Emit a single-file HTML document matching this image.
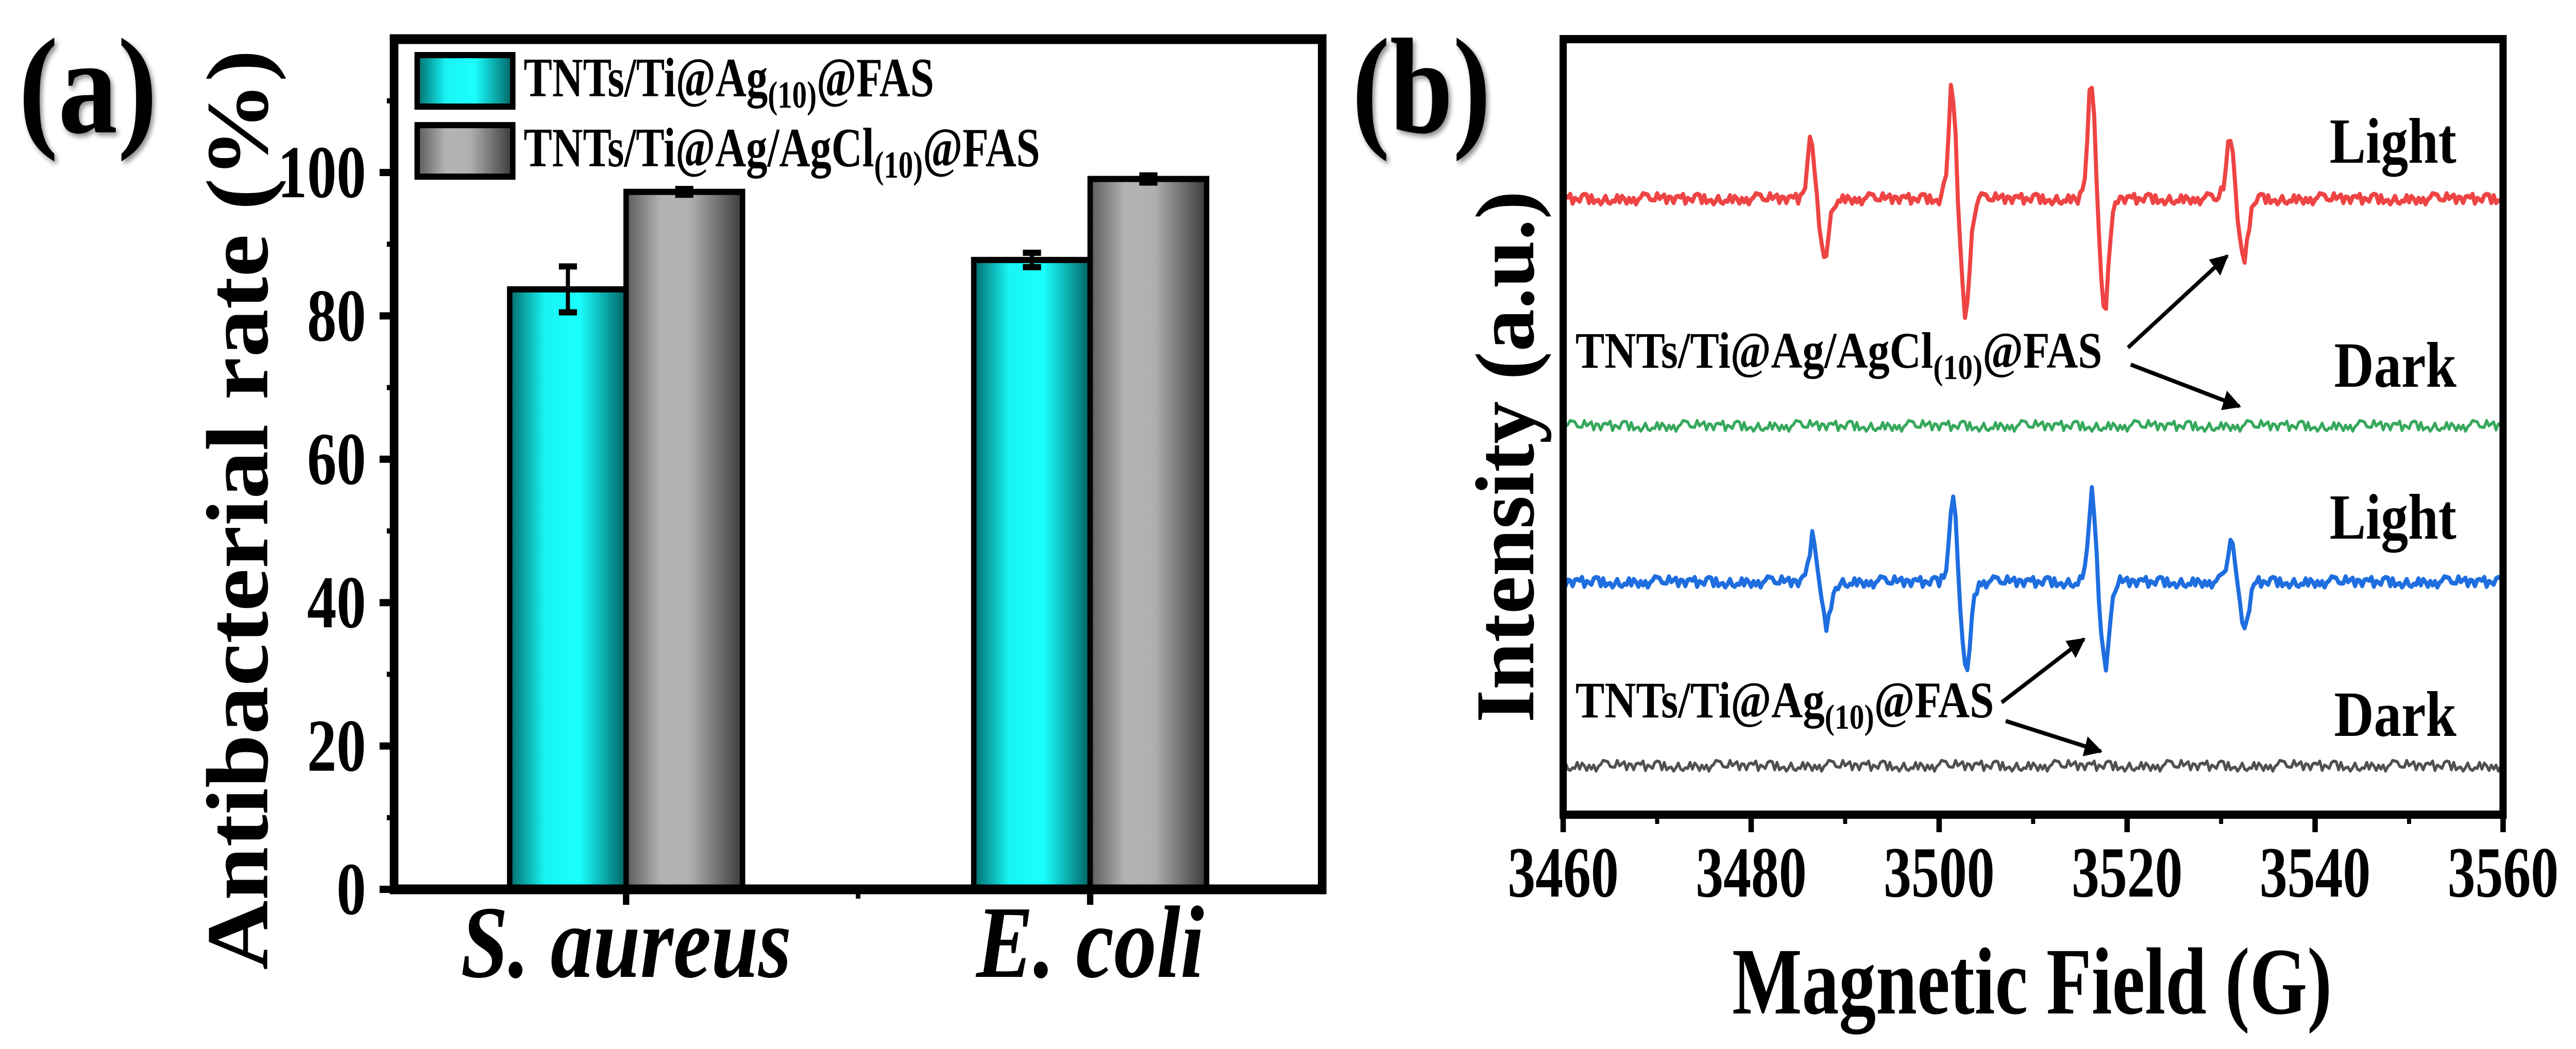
<!DOCTYPE html>
<html><head><meta charset="utf-8"><style>
html,body{margin:0;padding:0;background:#fff;width:100%;height:100%;overflow:hidden;}
svg{display:block;font-family:"Liberation Serif",serif;font-weight:bold;width:100vw;height:100vh;}
</style></head><body>
<svg id="fig" width="5687" height="2037" viewBox="0 0 5687 2037" preserveAspectRatio="none" xmlns="http://www.w3.org/2000/svg">
<defs>
<linearGradient id="gCyan" x1="0" x2="1" y1="0" y2="0">
<stop offset="0" stop-color="#006a6a"/><stop offset="0.3" stop-color="#18f4f4"/><stop offset="0.6" stop-color="#1affff"/><stop offset="1" stop-color="#006262"/></linearGradient>
<linearGradient id="gGray" x1="0" x2="1" y1="0" y2="0">
<stop offset="0" stop-color="#5a5a5a"/><stop offset="0.3" stop-color="#b4b4b4"/><stop offset="0.55" stop-color="#b0b0b0"/><stop offset="1" stop-color="#3a3a3a"/></linearGradient>
<filter id="shadow" x="-20%" y="-20%" width="140%" height="140%"><feDropShadow dx="5" dy="6" stdDeviation="5" flood-color="#000" flood-opacity="0.45"/></filter>
<marker id="arrow" viewBox="0 0 10 10" refX="9" refY="5" markerWidth="5" markerHeight="5" orient="auto"><path d="M0,0 L10,5 L0,10 z" fill="#000"/></marker>
</defs>
<g id="chartA"></g>
<g id="chartB"></g>
</svg>
<script>
// ---------- Chart (a) data ----------
const categories = ["S. aureus", "E. coli"];
const seriesNames = ["TNTs/Ti@Ag(10)@FAS", "TNTs/Ti@Ag/AgCl(10)@FAS"];
const agValues = [83.7, 87.8];
const agErrors = [3.2, 1.0];
const agclValues = [97.3, 99.1];
const agclErrors = [0.4, 0.5];
const yTicksA = [0, 20, 40, 60, 80, 100];

// ---------- Chart (b) data ----------
const xTicksB = [3460, 3480, 3500, 3520, 3540, 3560];
const redBaseline = 1196, greenBaseline = 755, blueBaseline = 452, grayBaseline = 95;
const redCenters = [3487.0, 3502.0, 3516.8, 3531.6];
const redPos = [120, 243, 250, 133];
const redNeg = [121, 244, 238, 134];
const blueCenters = [3487.2, 3502.1, 3516.9, 3531.7];
const bluePos = [97, 188, 192, 84];
const blueNeg = [91, 188, 182, 98];
const noise = [3,-5,6,-2,-7,4,1,-6,8,-3,2,-8,5,0,-4,7,-1,-6,3,5,-7,2,-3,6,-5,1,8,-2,-6,4,-1,7,-8,3,0,-4,6,-3,2,-7,5,-1,4,-6,1,7,-2,-5];

const NS = "http://www.w3.org/2000/svg";
function mk(tag, attrs, parent, text) {
  const e = document.createElementNS(NS, tag);
  for (const k in attrs) e.setAttribute(k, attrs[k]);
  if (text !== undefined) e.textContent = text;
  parent.appendChild(e);
  return e;
}

// ================= Chart (a) =================
const A = document.getElementById('chartA');
const aL = 870, aR = 2919, aT = 76, aB = 1727;
const yA = v => aB - v * 13.92;
const band = (aR - aL) / categories.length;
const xA = i => aL + (i + 0.5) * band;
const barW = 257;

let t = mk('text', {x: 41, y: 257, 'font-size': 265, textLength: 306, lengthAdjust: 'spacingAndGlyphs', filter: 'url(#shadow)'}, A, '(a)');



categories.forEach((c, i) => {
  const cx = xA(i);
  const vals = [agValues[i], agclValues[i]];
  const errs = [agErrors[i], agclErrors[i]];
  const fills = ['url(#gCyan)', 'url(#gGray)'];
  vals.forEach((v, j) => {
    const x0 = cx - barW + j * barW;
    const r = mk('rect', {x: x0, y: yA(v), width: barW, height: yA(0) - yA(v), fill: fills[j], stroke: '#000', 'stroke-width': 12}, A);
    
    
    const ex = x0 + barW / 2;
    const eg = mk('g', {stroke: '#000', 'stroke-width': 9}, A);
    
    
    mk('line', {x1: ex, x2: ex, y1: yA(v + errs[j]), y2: yA(v - errs[j])}, eg);
    mk('line', {x1: ex - 20, x2: ex + 20, y1: yA(v + errs[j]), y2: yA(v + errs[j]), 'stroke-width': 12}, eg);
    mk('line', {x1: ex - 20, x2: ex + 20, y1: yA(v - errs[j]), y2: yA(v - errs[j]), 'stroke-width': 12}, eg);
  });
  const lb = mk('text', {x: cx, y: 1897, 'font-size': 200, 'font-style': 'italic', 'text-anchor': 'middle', textLength: i === 0 ? 730 : 503, lengthAdjust: 'spacingAndGlyphs'}, A, c);
  
  
  const tk = mk('line', {x1: cx, x2: cx, y1: aB, y2: aB + 30, stroke: '#000', 'stroke-width': 14}, A);
  
  
});
let mt = mk('line', {x1: aL + band, x2: aL + band, y1: aB, y2: aB + 18, stroke: '#000', 'stroke-width': 10}, A);



let fr = mk('rect', {x: aL, y: aT, width: aR - aL, height: aB - aT, fill: 'none', stroke: '#000', 'stroke-width': 19}, A);



yTicksA.forEach(v => {
  const tk = mk('line', {x1: aL - 32, x2: aL, y1: yA(v), y2: yA(v), stroke: '#000', 'stroke-width': 14}, A);
  
  
  const s = String(v);
  const lb = mk('text', {x: 808, y: yA(v) + 48, 'font-size': 145, 'text-anchor': 'end', textLength: s.length * 65, lengthAdjust: 'spacingAndGlyphs'}, A, s);
  
  
  const mv = v + 10;
  const mk2 = mk('line', {x1: aL - 16, x2: aL, y1: yA(mv), y2: yA(mv), stroke: '#000', 'stroke-width': 10}, A);
  
  
});
let ya = mk('text', {x: 0, y: 0, 'font-size': 195, 'text-anchor': 'middle', textLength: 1787, lengthAdjust: 'spacingAndGlyphs', transform: 'translate(590,990) rotate(-90)'}, A, 'Antibacterial rate (%)');



const legY = [107, 243];
const legFill = ['url(#gCyan)', 'url(#gGray)'];
const legLen = [906, 1140];
seriesNames.forEach((n, j) => {
  const g = mk('g', {}, A);
  
  
  mk('rect', {x: 921, y: legY[j], width: 211, height: 100, fill: legFill[j], stroke: '#000', 'stroke-width': 12}, g);
  const tx = mk('text', {x: 1156, y: legY[j] + 80, 'font-size': 108, textLength: legLen[j], lengthAdjust: 'spacingAndGlyphs'}, g);
  const parts = n.split('(10)');
  mk('tspan', {}, tx, parts[0]);
  mk('tspan', {'font-size': 74, dy: 22}, tx, '(10)');
  mk('tspan', {dy: -22}, tx, parts[1]);
});

// ================= Chart (b) =================
const B = document.getElementById('chartB');
const bL = 3451, bR = 5526, bT = 76, bB = 1582;
const xB = f => bL + (f - 3460) * (bR - bL) / 100;
const yB = v => bB - v;

t = mk('text', {x: 2985, y: 257, 'font-size': 265, textLength: 306, lengthAdjust: 'spacingAndGlyphs', filter: 'url(#shadow)'}, B, '(b)');



const shapeOffsets = [-2.0, -1.3, -1.0, -0.7, -0.3, 0, 0.35, 0.85, 1.2, 1.6, 2.2];
function peakShape(f, centers, pos, neg) {
  let s = 0;
  centers.forEach((c, k) => {
    const P = pos[k], N = neg[k];
    const vals = [0, 0.15 * P, 0.55 * P, P, 0.6 * P, 0, -0.55 * N, -N, -0.6 * N, -0.15 * N, 0];
    const d = f - c;
    if (d <= shapeOffsets[0] || d >= shapeOffsets[shapeOffsets.length - 1]) return;
    for (let m = 0; m < shapeOffsets.length - 1; m++) {
      if (d >= shapeOffsets[m] && d <= shapeOffsets[m + 1]) {
        const tt = (d - shapeOffsets[m]) / (shapeOffsets[m + 1] - shapeOffsets[m]);
        s += vals[m] + tt * (vals[m + 1] - vals[m]);
        break;
      }
    }
  });
  return s;
}
function drawSeries(name, color, base, centers, pos, neg, nOff, width) {
  let d = '';
  for (let i = 0; i <= 400; i++) {
    const f = 3460 + i * 0.25;
    let v = base + 1.3 * noise[(i * 5 + nOff) % noise.length];
    if (centers) v += peakShape(f, centers, pos, neg);
    d += (i ? 'L' : 'M') + xB(f).toFixed(1) + ',' + yB(v).toFixed(1);
  }
  const p = mk('path', {d: d, fill: 'none', stroke: color, 'stroke-width': width, 'stroke-linejoin': 'round'}, B);
  
  
}
drawSeries('line-agcl-light', '#ee4444', redBaseline, redCenters, redPos, redNeg, 0, 9);
drawSeries('line-agcl-dark', '#36a85c', greenBaseline, null, null, null, 11, 6);
drawSeries('line-ag-light', '#1f6ee0', blueBaseline, blueCenters, bluePos, blueNeg, 23, 9);
drawSeries('line-ag-dark', '#505050', grayBaseline, null, null, null, 37, 6);

fr = mk('rect', {x: bL, y: bT, width: bR - bL, height: bB - bT, fill: 'none', stroke: '#000', 'stroke-width': 16}, B);



xTicksB.forEach((v, i) => {
  const tk = mk('line', {x1: xB(v), x2: xB(v), y1: bB, y2: bB + 34, stroke: '#000', 'stroke-width': 12}, B);
  
  
  const lb = mk('text', {x: xB(v), y: 1741, 'font-size': 140, 'text-anchor': 'middle', textLength: 245, lengthAdjust: 'spacingAndGlyphs'}, B, String(v));
  
  
  if (i < xTicksB.length - 1) {
    const m = mk('line', {x1: xB(v + 10), x2: xB(v + 10), y1: bB, y2: bB + 18, stroke: '#000', 'stroke-width': 9}, B);
    
    
  }
});
let xt = mk('text', {x: 3824, y: 1968, 'font-size': 185, textLength: 1324, lengthAdjust: 'spacingAndGlyphs'}, B, 'Magnetic Field (G)');


let yt = mk('text', {x: 0, y: 0, 'font-size': 185, 'text-anchor': 'middle', textLength: 1033, lengthAdjust: 'spacingAndGlyphs', transform: 'translate(3385,887) rotate(-90)'}, B, 'Intensity (a.u.)');



function sampleLabel(name, x, y, pre, post, len) {
  const tx = mk('text', {x: x, y: y, 'font-size': 100, textLength: len, lengthAdjust: 'spacingAndGlyphs'}, B);
  
  
  mk('tspan', {}, tx, pre);
  mk('tspan', {'font-size': 68, dy: 22}, tx, '(10)');
  mk('tspan', {dy: -22}, tx, post);
}
sampleLabel('label-agcl', 3478, 714, 'TNTs/Ti@Ag/AgCl', '@FAS', 1163);
sampleLabel('label-ag', 3478, 1393, 'TNTs/Ti@Ag', '@FAS', 924);
const arrows = [[4698,675,4917,497],[4704,708,4944,789],[4419,1364,4601,1241],[4428,1400,4638,1459]];
arrows.forEach(a => {
  const l = mk('line', {x1: a[0], y1: a[1], x2: a[2], y2: a[3], stroke: '#000', 'stroke-width': 8, 'marker-end': 'url(#arrow)'}, B);
  
  
});
const condTexts = ['Light', 'Dark', 'Light', 'Dark'];
const condY = [316, 751, 1046, 1429];
condTexts.forEach((c, i) => {
  const tx = mk('text', {x: 5423, y: condY[i], 'font-size': 125, 'text-anchor': 'end', textLength: c === 'Light' ? 280 : 270, lengthAdjust: 'spacingAndGlyphs'}, B, c);
  
  
});
</script>
</body></html>
